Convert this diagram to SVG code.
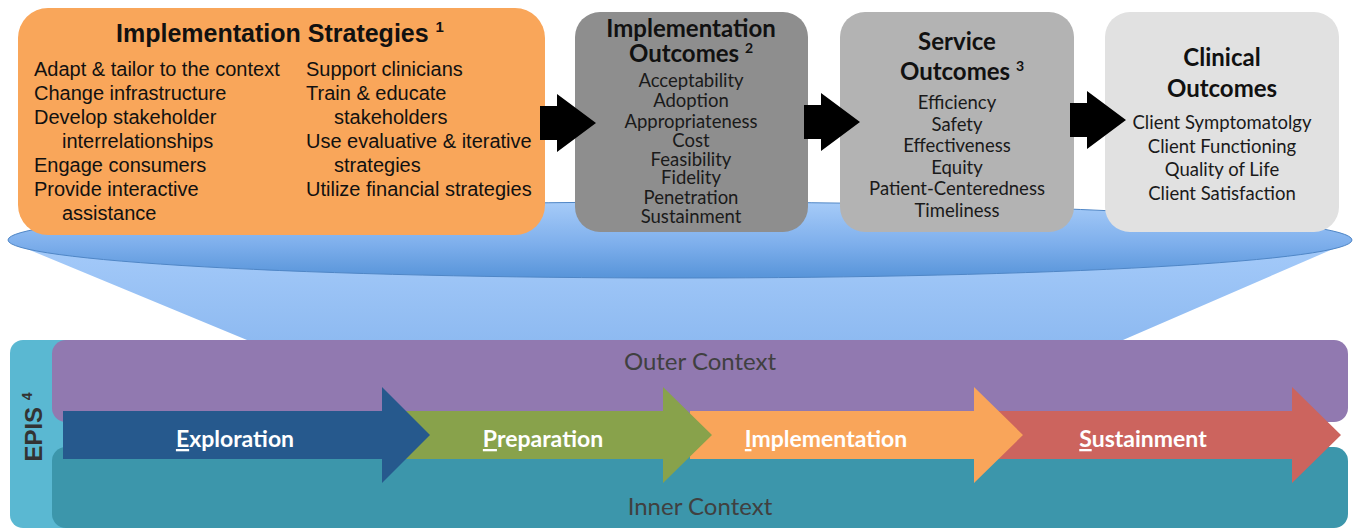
<svg xmlns="http://www.w3.org/2000/svg" width="1359" height="529" viewBox="0 0 1359 529">
<defs>
<linearGradient id="discGrad" gradientUnits="userSpaceOnUse" x1="0" y1="202" x2="0" y2="278">
<stop offset="0" stop-color="#a6cbf8"/>
<stop offset="0.55" stop-color="#7eafec"/>
<stop offset="1" stop-color="#5794d9"/>
</linearGradient>
<linearGradient id="coneGrad" gradientUnits="userSpaceOnUse" x1="0" y1="246" x2="0" y2="340">
<stop offset="0" stop-color="#a4caf9"/>
<stop offset="1" stop-color="#8ebaf1"/>
</linearGradient>
<style>
.ar{font-family:"Liberation Sans",Arial,sans-serif}
.cb{font-family:Lato,"Open Sans",sans-serif}
.strat{font-size:20px;fill:#111}
.stitle{font-size:25px;font-weight:bold;fill:#111}
.otitle{font-size:24px;font-weight:bold;fill:#111;text-anchor:middle}
.item{font-size:18.5px;fill:#1a1a1a;text-anchor:middle}
.blk{fill:#000}
.ctx{font-size:24px;fill:#404040;text-anchor:middle}
.phase{font-size:23px;font-weight:bold;fill:#fff;text-anchor:middle}
</style>
</defs>
<rect width="1359" height="529" fill="#fff"/>

<g id="cone">
<path d="M 20 246 L 247 340 L 251 344 L 1119 344 L 1123 340 L 1340 246 Z" fill="url(#coneGrad)"/>
<ellipse cx="680" cy="240" rx="672" ry="38" fill="url(#discGrad)" stroke="#4f86c6" stroke-width="1"/>
</g>

<g id="implementation-strategies">
<rect x="18" y="8" width="527" height="227" rx="30" fill="#f9a65a"/>
<text class="ar stitle" x="280" y="42" text-anchor="middle">Implementation Strategies <tspan font-size="15" dy="-10">1</tspan></text>
<g class="ar strat">
<text x="34" y="76">Adapt &amp; tailor to the context</text>
<text x="34" y="100">Change infrastructure</text>
<text x="34" y="124">Develop stakeholder</text>
<text x="62" y="148">interrelationships</text>
<text x="34" y="172">Engage consumers</text>
<text x="34" y="196">Provide interactive</text>
<text x="62" y="220">assistance</text>
<text x="306" y="76">Support clinicians</text>
<text x="306" y="100">Train &amp; educate</text>
<text x="334" y="124">stakeholders</text>
<text x="306" y="148">Use evaluative &amp; iterative</text>
<text x="334" y="172">strategies</text>
<text x="306" y="196">Utilize financial strategies</text>
</g>
</g>

<g id="implementation-outcomes">
<rect x="575" y="12" width="233" height="220" rx="25" fill="#8e8e8e"/>
<text class="cb otitle" x="691" y="37">Implementation</text>
<text class="cb otitle" x="691" y="62">Outcomes <tspan font-size="14" dy="-9">2</tspan></text>
<g class="cb item">
<text x="691" y="87">Acceptability</text>
<text x="691" y="107">Adoption</text>
<text x="691" y="127.5">Appropriateness</text>
<text x="691" y="146.5">Cost</text>
<text x="691" y="166">Feasibility</text>
<text x="691" y="184">Fidelity</text>
<text x="691" y="203.5">Penetration</text>
<text x="691" y="223">Sustainment</text>
</g>
</g>

<g id="service-outcomes">
<rect x="840" y="12" width="234" height="220" rx="25" fill="#b3b3b3"/>
<text class="cb otitle" x="957" y="50">Service</text>
<text class="cb otitle" x="962" y="80">Outcomes <tspan font-size="14" dy="-9">3</tspan></text>
<g class="cb item">
<text x="957" y="109">Efficiency</text>
<text x="957" y="130.6">Safety</text>
<text x="957" y="152.2">Effectiveness</text>
<text x="957" y="173.8">Equity</text>
<text x="957" y="195.4">Patient-Centeredness</text>
<text x="957" y="217">Timeliness</text>
</g>
</g>

<g id="clinical-outcomes">
<rect x="1105" y="12" width="234" height="220" rx="25" fill="#e1e1e1"/>
<text class="cb otitle" x="1222" y="66">Clinical</text>
<text class="cb otitle" x="1222" y="97">Outcomes</text>
<g class="cb item">
<text x="1222" y="129">Client Symptomatolgy</text>
<text x="1222" y="153">Client Functioning</text>
<text x="1222" y="176">Quality of Life</text>
<text x="1222" y="199.5">Client Satisfaction</text>
</g>
</g>

<g id="connectors">
<polygon class="blk" points="540,106 557,106 557,94 596,123 557,152 557,140 540,140"/>
<polygon class="blk" points="804,105 821,105 821,93 860,122 821,151 821,139 804,139"/>
<polygon class="blk" points="1070,103 1087,103 1087,91 1126,120 1087,149 1087,137 1070,137"/>
</g>

<g id="epis">
<rect x="10" y="340" width="160" height="188" rx="13" fill="#5ab8d2"/>
<text class="ar" font-size="24" font-weight="bold" fill="#333" transform="translate(42,427) rotate(-90)" text-anchor="middle">EPIS <tspan font-size="14" dy="-10">4</tspan></text>
</g>

<g id="outer-context">
<rect x="52" y="340" width="1296" height="82" rx="14" fill="#9179b0"/>
<text class="cb ctx" x="700" y="370">Outer Context</text>
</g>

<g id="inner-context">
<rect x="52" y="447" width="1296" height="81" rx="14" fill="#3c96ab"/>
<text class="cb ctx" x="700" y="515">Inner Context</text>
</g>

<g id="phase-sustainment">
<polygon points="990,411 1292,411 1292,387 1341,435 1292,483 1292,459 990,459" fill="#cc645e"/>
<text class="cb phase" x="1143" y="447"><tspan text-decoration="underline">S</tspan>ustainment</text>
</g>
<g id="phase-implementation">
<polygon points="690,411 974,411 974,387 1023,435 974,483 974,459 690,459" fill="#f9a55a"/>
<text class="cb phase" x="826" y="447"><tspan text-decoration="underline">I</tspan>mplementation</text>
</g>
<g id="phase-preparation">
<polygon points="400,411 663,411 663,387 712,435 663,483 663,459 400,459" fill="#88a24b"/>
<text class="cb phase" x="543" y="447"><tspan text-decoration="underline">P</tspan>reparation</text>
</g>
<g id="phase-exploration">
<polygon points="63,411 382,411 382,387 430,435 382,483 382,459 63,459" fill="#26598d"/>
<text class="cb phase" x="235" y="447"><tspan text-decoration="underline">E</tspan>xploration</text>
</g>
</svg>
